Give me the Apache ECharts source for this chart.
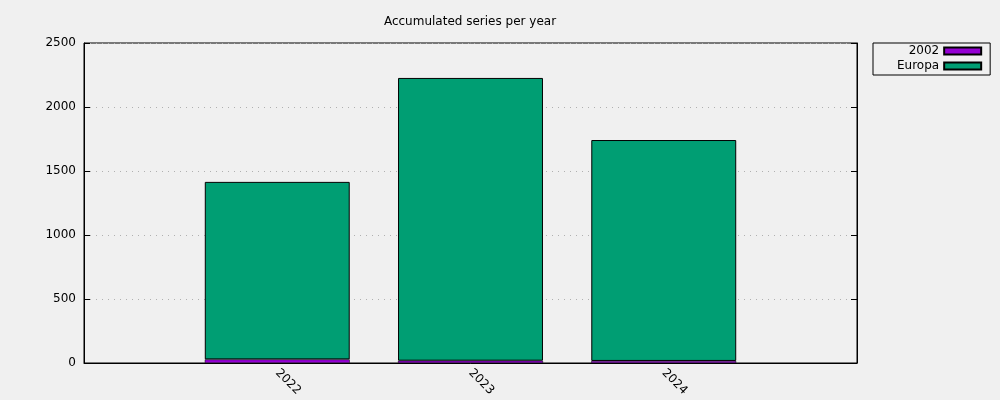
<!DOCTYPE html>
<html>
<head>
<meta charset="utf-8">
<script src="https://cdn.jsdelivr.net/npm/echarts@6/dist/echarts.min.js"></script>
<style>
html,body{margin:0;padding:0;background:#f0f0f0;}
#chart{width:1000px;height:400px;}
</style>
</head>
<body>
<div id="chart"></div>
<script>
const years = ['2022', '2023', '2024'];
const series2002 = [28, 18, 16];
const seriesEuropa = [1387, 2209, 1726];
const yTicks = [0, 500, 1000, 1500, 2000, 2500];
const titleText = 'Accumulated series per year';

// Category slots with an empty slot on each side (xrange -1..3)
const cats = [''].concat(years, ['']);
const pad = arr => [null].concat(arr, [null]);

const FONT = 'DejaVu Sans';
const chart = echarts.init(document.getElementById('chart'));
chart.setOption({
  backgroundColor: '#f0f0f0',
  animation: false,
  textStyle: { fontFamily: FONT },
  title: {
    text: titleText,
    left: 470,
    top: 16,
    padding: 0,
    textAlign: 'center',
    textStyle: { fontFamily: FONT, fontSize: 12, fontWeight: 'normal', color: '#000' }
  },
  legend: {
    orient: 'vertical',
    left: 873,
    top: 43,
    align: 'right',
    itemWidth: 37,
    itemHeight: 7,
    itemGap: 1,
    padding: [1, 8, 2, 24],
    borderColor: '#000',
    borderWidth: 1,
    borderRadius: 0,
    icon: 'rect',
    textStyle: { fontFamily: FONT, fontSize: 12, color: '#000', lineHeight: 14 },
    data: ['2002', 'Europa']
  },
  grid: {
    left: 84, right: 143, top: 43, bottom: 37,
    show: true, borderColor: '#000', borderWidth: 1, backgroundColor: 'transparent',
    containLabel: false
  },
  xAxis: {
    type: 'category',
    data: cats,
    boundaryGap: false,
    axisLine: { lineStyle: { color: '#000', width: 1 } },
    axisTick: { show: false },
    axisLabel: { rotate: -45, interval: 0, fontFamily: FONT, fontSize: 12, color: '#000', margin: 8 },
    splitLine: { show: false }
  },
  yAxis: [{
    type: 'value',
    min: yTicks[0], max: yTicks[yTicks.length - 1], interval: 500,
    axisLine: { show: true, lineStyle: { color: '#000' } },
    axisTick: { show: true, inside: true, length: 6, lineStyle: { color: '#000' } },
    axisLabel: { fontFamily: FONT, fontSize: 12, color: '#000', margin: 8, formatter: v => String(v) },
    splitLine: { show: true, lineStyle: { color: '#b0b0b0', type: [1, 5], width: 1 } }
  }, {
    type: 'value',
    position: 'right',
    min: yTicks[0], max: yTicks[yTicks.length - 1], interval: 500,
    axisLine: { show: true, lineStyle: { color: '#000' } },
    axisTick: { show: true, inside: true, length: 6, lineStyle: { color: '#000' } },
    axisLabel: { show: false },
    splitLine: { show: false }
  }],
  series: [{
    name: '2002',
    type: 'bar',
    stack: 'total',
    barWidth: '75%',
    data: pad(series2002),
    itemStyle: { color: '#9400d3', borderColor: '#000', borderWidth: 0.5 }
  }, {
    name: 'Europa',
    type: 'bar',
    stack: 'total',
    barWidth: '75%',
    data: pad(seriesEuropa),
    itemStyle: { color: '#009e73', borderColor: '#000', borderWidth: 1 }
  }]
});
</script>
</body>
</html>
